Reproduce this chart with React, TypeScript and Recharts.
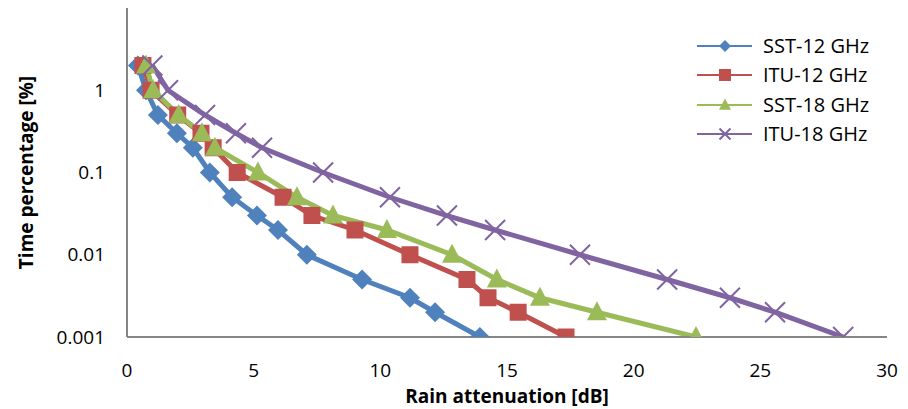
import React from 'react'
import { LineChart, Line, XAxis, YAxis } from 'recharts'

// time percentage [%] shared by all four curves
const timePct = [2, 1, 0.5, 0.3, 0.2, 0.1, 0.05, 0.03, 0.02, 0.01, 0.005, 0.003, 0.002, 0.001]

// rain attenuation [dB] read per curve
const sst12 = [0.43, 0.75, 1.22, 1.97, 2.6, 3.27, 4.15, 5.13, 5.96, 7.1, 9.28, 11.17, 12.16, 13.93]
const itu12 = [0.63, 0.95, 2.0, 2.92, 3.4, 4.35, 6.16, 7.3, 9.0, 11.17, 13.42, 14.25, 15.44, 17.33]
const sst18 = [0.75, 1.03, 2.04, 2.96, 3.47, 5.17, 6.71, 8.13, 10.26, 12.83, 14.6, 16.3, 18.55, 22.46]
const itu18 = [1.0, 1.62, 3.08, 4.3, 5.33, 7.74, 10.38, 12.63, 14.53, 17.88, 21.32, 23.8, 25.58, 28.27]

const xTicks = [0, 5, 10, 15, 20, 25, 30]
const yTicks = [0.001, 0.01, 0.1, 1]

const toRows = (att: number[]) => att.map((a, i) => ({ att: a, pct: timePct[i] }))

type Shape = 'diamond' | 'square' | 'triangle' | 'cross'

const series: { name: string; color: string; shape: Shape; values: number[] }[] = [
  { name: 'SST-12 GHz', color: '#4F81BD', shape: 'diamond', values: sst12 },
  { name: 'ITU-12 GHz', color: '#C0504D', shape: 'square', values: itu12 },
  { name: 'SST-18 GHz', color: '#9BBB59', shape: 'triangle', values: sst18 },
  { name: 'ITU-18 GHz', color: '#8064A2', shape: 'cross', values: itu18 },
]

const marker = (shape: Shape, color: string, cx: number, cy: number, s: number, key?: string) => {
  if (shape === 'diamond') {
    return <path key={key} d={`M${cx},${cy - s}L${cx + s},${cy}L${cx},${cy + s}L${cx - s},${cy}Z`} fill={color} />
  }
  if (shape === 'square') {
    return <rect key={key} x={cx - s} y={cy - s} width={s * 2} height={s * 2} fill={color} />
  }
  if (shape === 'triangle') {
    return <path key={key} d={`M${cx},${cy - s * 1.1}L${cx + s},${cy + s * 0.8}L${cx - s},${cy + s * 0.8}Z`} fill={color} />
  }
  return (
    <path
      key={key}
      d={`M${cx - s},${cy - s}L${cx + s},${cy + s}M${cx + s},${cy - s}L${cx - s},${cy + s}`}
      stroke={color}
      strokeWidth={2}
      fill="none"
    />
  )
}

const dotFor = (shape: Shape, color: string) => (props: any) => {
  const { cx, cy, index } = props
  const size = shape === 'square' ? 8.5 : shape === 'diamond' ? 10 : 10
  return marker(shape, color, cx, cy, size, `${shape}-${index}`)
}

// legend drawn as plain html over the chart so it does not shrink the plot
const LegendBox = () => (
  <div
    style={{
      position: 'absolute',
      left: 695,
      top: 31,
      fontFamily: '"Open Sans", sans-serif',
      fontSize: 20,
      color: '#000',
    }}
  >
    {series.map(s => (
      <div key={s.name} style={{ display: 'flex', alignItems: 'center', height: 29.5 }}>
        <svg width={62} height={20} style={{ marginRight: 6 }}>
          <line x1={2} y1={10} x2={57} y2={10} stroke={s.color} strokeWidth={2} />
          {marker(s.shape, s.color, 30, 10, s.shape === 'cross' ? 5.5 : 6)}
        </svg>
        <span style={{ lineHeight: '20px' }}>{s.name}</span>
      </div>
    ))}
  </div>
)

const tickStyle = { fontFamily: '"Open Sans", sans-serif', fontSize: 19, fill: '#000' }
const titleStyle = { fontFamily: '"Open Sans", sans-serif', fontSize: 19, fontWeight: 700, fill: '#000' }

const App: React.FC = () => {
  return (
    <div style={{ position: 'absolute', left: 0, top: 0, width: 908, height: 409, background: '#fff' }}>
      <LineChart width={908} height={409} margin={{ top: 8, right: 21, left: 0, bottom: 0 }}>
        <XAxis
          type="number"
          dataKey="att"
          domain={[0, 30]}
          ticks={xTicks}
          allowDataOverflow
          stroke="#868686"
          strokeWidth={2}
          tickLine={false}
          tickSize={6}
          tickMargin={21}
          tick={tickStyle}
          height={72}
          label={{ value: 'Rain attenuation [dB]', position: 'insideBottom', offset: 6, style: titleStyle }}
        />
        <YAxis
          type="number"
          dataKey="pct"
          scale="log"
          domain={[0.001, 10]}
          ticks={yTicks}
          allowDataOverflow
          stroke="#868686"
          strokeWidth={2}
          tickLine={false}
          tickSize={6}
          tickMargin={16}
          tick={tickStyle}
          width={127}
          tickFormatter={(v: number) => String(v)}
          label={{ value: 'Time percentage [%]', angle: -90, position: 'center', dx: -37, style: titleStyle }}
        />
        {series.map(s => (
          <Line
            key={s.name}
            name={s.name}
            data={toRows(s.values)}
            dataKey="pct"
            type="linear"
            stroke={s.color}
            strokeWidth={5}
            dot={dotFor(s.shape, s.color)}
            activeDot={false}
            isAnimationActive={false}
          />
        ))}
      </LineChart>
      <LegendBox />
    </div>
  )
}

export default App
